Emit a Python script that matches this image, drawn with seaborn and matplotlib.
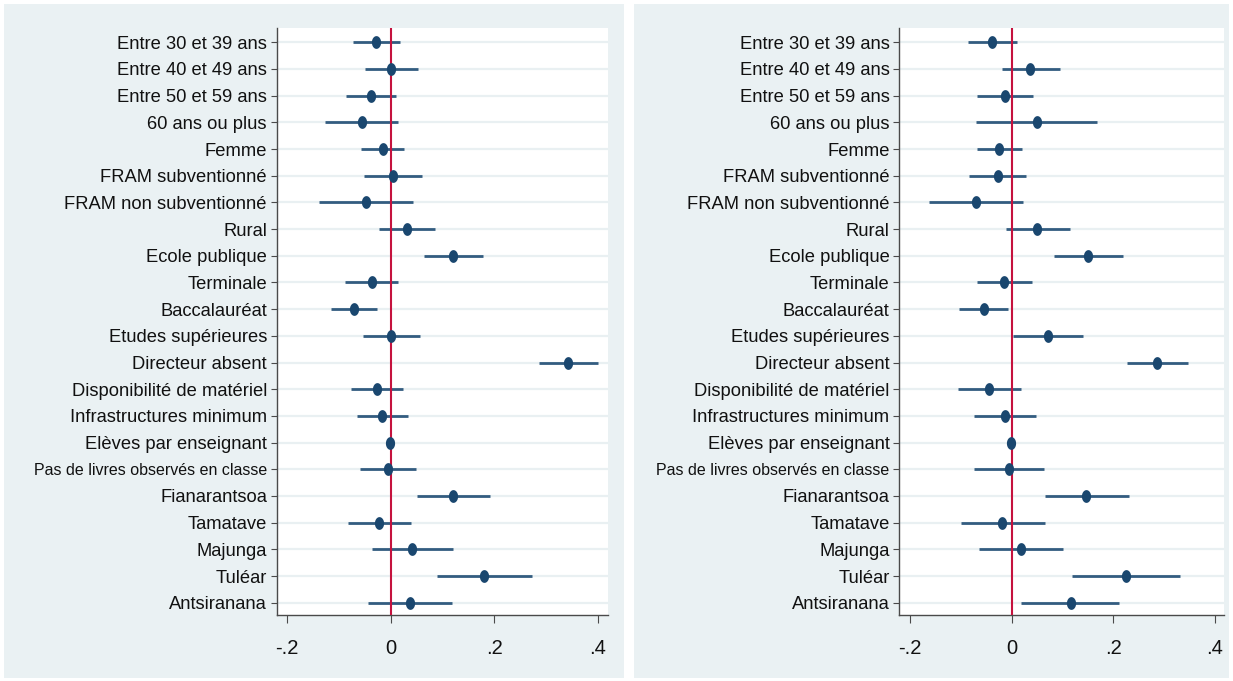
import numpy as np
import pandas as pd
import matplotlib
matplotlib.use("Agg")
import matplotlib.pyplot as plt
from matplotlib import font_manager
from matplotlib.path import Path
from matplotlib.patches import Rectangle
import seaborn as sns

# Regressors, top to bottom
labels = [
    "Entre 30 et 39 ans", "Entre 40 et 49 ans", "Entre 50 et 59 ans",
    "60 ans ou plus", "Femme", "FRAM subventionné", "FRAM non subventionné",
    "Rural", "Ecole publique", "Terminale", "Baccalauréat",
    "Etudes supérieures", "Directeur absent", "Disponibilité de matériel",
    "Infrastructures minimum", "Elèves par enseignant",
    "Pas de livres observés en classe", "Fianarantsoa", "Tamatave",
    "Majunga", "Tuléar", "Antsiranana",
]

# Model 1: point estimates and 95% confidence bounds
coef_1 = [-0.029, 0.000, -0.038, -0.056, -0.015, 0.005, -0.048,
          0.031, 0.121, -0.037, -0.071, 0.001, 0.342, -0.027,
          -0.017, -0.002, -0.005, 0.120, -0.022, 0.042, 0.180, 0.038]
low_1 = [-0.073, -0.050, -0.086, -0.127, -0.057, -0.051, -0.138,
         -0.023, 0.065, -0.088, -0.115, -0.054, 0.286, -0.076,
         -0.066, -0.004, -0.059, 0.050, -0.083, -0.036, 0.090, -0.043]
high_1 = [0.017, 0.052, 0.011, 0.015, 0.026, 0.061, 0.043,
          0.086, 0.179, 0.015, -0.027, 0.056, 0.400, 0.023,
          0.034, 0.000, 0.048, 0.191, 0.040, 0.121, 0.273, 0.118]

# Model 2: point estimates and 95% confidence bounds
coef_2 = [-0.038, 0.037, -0.014, 0.049, -0.025, -0.028, -0.071,
          0.050, 0.150, -0.015, -0.055, 0.071, 0.287, -0.045,
          -0.013, -0.002, -0.005, 0.146, -0.019, 0.018, 0.225, 0.116]
low_2 = [-0.086, -0.020, -0.069, -0.071, -0.068, -0.084, -0.163,
         -0.012, 0.083, -0.069, -0.103, 0.003, 0.227, -0.106,
         -0.074, -0.004, -0.075, 0.065, -0.100, -0.065, 0.119, 0.018]
high_2 = [0.010, 0.096, 0.042, 0.169, 0.020, 0.029, 0.023,
          0.114, 0.219, 0.039, -0.008, 0.140, 0.347, 0.019,
          0.048, 0.000, 0.064, 0.231, 0.066, 0.102, 0.331, 0.212]

xtick_values = [-0.2, 0.0, 0.2, 0.4]
xtick_labels = ["-.2", "0", ".2", ".4"]

NAVY = "#1a476f"
CI_COLOR = "#335c80"
REF_RED = "#c5123e"
PANEL_BG = "#eaf1f3"
GRID = "#e9f0f2"
AXIS = "#4a4a4a"

sns.set_theme(style="white")
plt.rcParams["font.family"] = ["Liberation Sans", "DejaVu Sans"]

installed = {f.name for f in font_manager.fontManager.ttflist}
tick_family = "Liberation Sans Narrow" if "Liberation Sans Narrow" in installed else "Liberation Sans"

# Slightly tall oval marker
t = np.linspace(0, 2 * np.pi, 64)
oval = Path(np.column_stack([0.36 * np.cos(t), 0.5 * np.sin(t)]), closed=True)

W, H, DPI = 1233, 681, 100
fig = plt.figure(figsize=(W / DPI, H / DPI), dpi=DPI, facecolor="white")

# Light panel backgrounds behind each model
for x0, x1 in [(4, 624), (634, 1229)]:
    fig.patches.append(Rectangle((x0 / W, 3 / H), (x1 - x0) / W, 674 / H,
                                 transform=fig.transFigure, facecolor=PANEL_BG,
                                 edgecolor="none", zorder=-10))

panels = [
    dict(rect=(276.7, 607.7), xlim=(-0.2203, 0.4193), coef=coef_1, lo=low_1, hi=high_1),
    dict(rect=(899.3, 1224.0), xlim=(-0.2215, 0.4183), coef=coef_2, lo=low_2, hi=high_2),
]

ypos = np.arange(len(labels))
top_px, bot_px = 28.3, 615.0

for p in panels:
    x0, x1 = p["rect"]
    ax = fig.add_axes([x0 / W, (H - bot_px) / H, (x1 - x0) / W, (bot_px - top_px) / H])
    ax.set_zorder(5)
    ax.set_facecolor("white")
    df = pd.DataFrame({"term": labels, "pos": ypos, "coef": p["coef"],
                       "lo": p["lo"], "hi": p["hi"]})

    # horizontal guide lines at each regressor
    for y in ypos:
        ax.axhline(y, color=GRID, lw=1.6, zorder=1)

    ax.hlines(df["pos"], df["lo"], df["hi"], color=CI_COLOR, lw=2.0, zorder=2)
    ax.axvline(0, color=REF_RED, lw=1.5, zorder=3)
    sns.scatterplot(data=df, x="coef", y="pos", ax=ax, marker=oval, s=9.2 ** 2,
                    color=NAVY, edgecolor=NAVY, linewidth=0, zorder=4, legend=False)

    ax.set_xlim(*p["xlim"])
    ax.set_ylim(21.461, -0.525)
    ax.set_yticks(ypos)
    ax.set_yticklabels(labels)
    for lab, tl in zip(labels, ax.get_yticklabels()):
        tl.set_fontsize(11.5 if lab.startswith("Pas de livres") else 13.2)
        tl.set_color("#111111")
    ax.set_xticks(xtick_values)
    ax.set_xticklabels(xtick_labels, family=tick_family, fontsize=14.5, color="#111111")
    ax.set_xlabel("")
    ax.set_ylabel("")

    for side in ["top", "right"]:
        ax.spines[side].set_visible(False)
    for side in ["left", "bottom"]:
        ax.spines[side].set_color(AXIS)
        ax.spines[side].set_linewidth(1.0)
    ax.tick_params(axis="y", direction="out", length=4, width=0.8, color=AXIS, pad=3, left=True)
    ax.tick_params(axis="x", direction="out", length=6, width=0.8, color=AXIS, pad=11, bottom=True)
    ax.grid(False)

fig.savefig("out.png", dpi=DPI, facecolor="white")
